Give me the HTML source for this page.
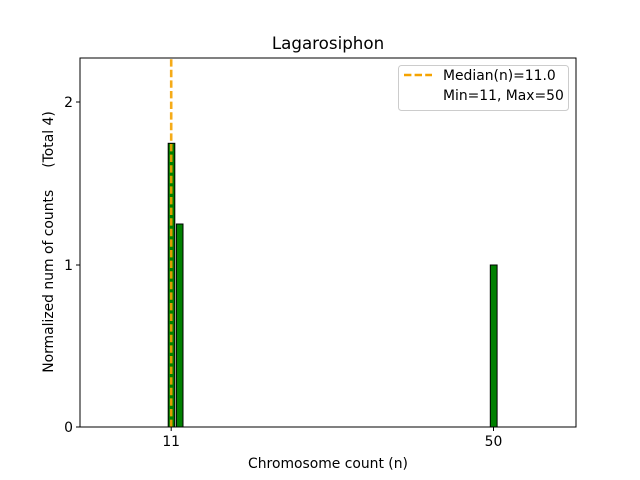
<!DOCTYPE html>
<html><head><style>body{margin:0;background:#fff}svg{display:block}text{font-family:"DejaVu Sans","Liberation Sans",sans-serif;fill:#000}</style></head>
<body>
<svg width="640" height="480" viewBox="0 0 640 480" xmlns="http://www.w3.org/2000/svg">
<rect width="640" height="480" fill="#fff"/>
<rect x="168.2" y="143.3" width="6.6" height="283.7" fill="green" stroke="#000" stroke-width="1"/>
<rect x="176.4" y="224" width="6.6" height="203" fill="green" stroke="#000" stroke-width="1"/>
<rect x="490.3" y="265" width="6.8" height="162" fill="green" stroke="#000" stroke-width="1"/>
<line x1="171.2" y1="427" x2="171.2" y2="58" stroke="#f5a300" stroke-width="2.6" stroke-dasharray="7.4,3.2" opacity="0.9"/>
<rect x="80" y="58" width="496" height="369" fill="none" stroke="#000" stroke-width="1"/>
<g stroke="#000" stroke-width="1">
<line x1="80" y1="427" x2="76" y2="427"/><line x1="80" y1="265" x2="76" y2="265"/><line x1="80" y1="102" x2="76" y2="102"/>
<line x1="171.2" y1="427" x2="171.2" y2="431"/><line x1="493.5" y1="427" x2="493.5" y2="431"/>
</g>
<g font-size="13.9" text-anchor="end">
<text x="73" y="432">0</text><text x="73" y="270">1</text><text x="73" y="107">2</text>
</g>
<g font-size="13.9" text-anchor="middle">
<text x="171.2" y="446">11</text><text x="493.5" y="446">50</text>
<text x="328" y="468">Chromosome count (n)</text>
</g>
<text x="328" y="49" font-size="16.7" text-anchor="middle">Lagarosiphon</text>
<text transform="translate(53,242) rotate(-90)" font-size="13.9" text-anchor="middle" xml:space="preserve" style="white-space:pre">Normalized num of counts     (Total 4)</text>
<rect x="398.5" y="65.5" width="170" height="45" rx="3" fill="#fff" stroke="#ccc" stroke-width="1"/>
<line x1="404" y1="75" x2="432" y2="75" stroke="#f5a300" stroke-width="2.6" stroke-dasharray="7.4,3.2"/>
<text x="443" y="80" font-size="13.9">Median(n)=11.0</text>
<text x="443" y="100" font-size="13.9">Min=11, Max=50</text>
</svg>
</body></html>
